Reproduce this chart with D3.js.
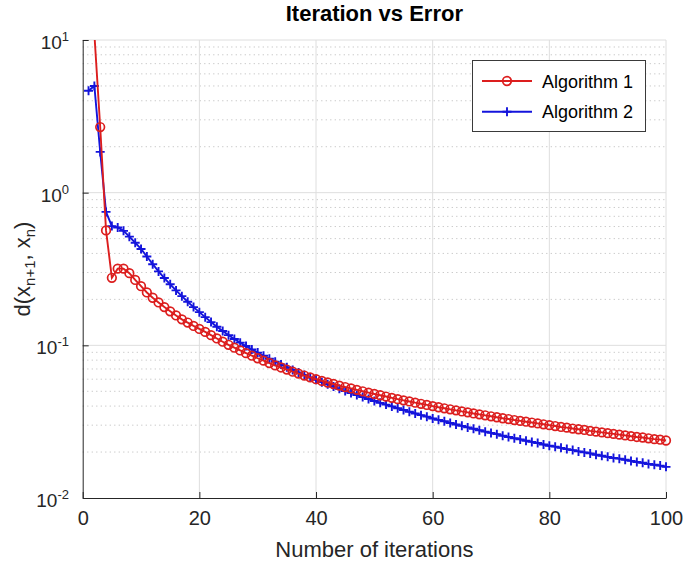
<!DOCTYPE html>
<html><head><meta charset="utf-8">
<script src="https://cdn.jsdelivr.net/npm/d3@7"></script>
<style>body{margin:0;background:#fff;} svg{display:block;font-family:"Liberation Sans",Arial,Helvetica,sans-serif;}</style>
</head><body><svg id="chart" width="685" height="561"></svg>
<script>
const iterations = d3.range(1, 101);
const algorithm1 = [45, 11, 2.69, 0.566, 0.277, 0.318, 0.318, 0.297, 0.268, 0.244,
  0.222, 0.205, 0.191, 0.178, 0.167, 0.157, 0.148, 0.141, 0.134, 0.128,
  0.1225, 0.1166, 0.1109, 0.1056, 0.1008, 0.0965, 0.0926, 0.0889, 0.0855, 0.0823,
  0.0794, 0.0766, 0.0739, 0.0716, 0.0694, 0.0672, 0.0653, 0.0634, 0.0617, 0.0600,
  0.0585, 0.0571, 0.0558, 0.0545, 0.0533, 0.0522, 0.0511, 0.0500, 0.0490, 0.0480,
  0.0471, 0.0462, 0.0453, 0.0444, 0.0436, 0.0429, 0.0421, 0.0414, 0.0407, 0.0400,
  0.0393, 0.0387, 0.0381, 0.0375, 0.0369, 0.0364, 0.0358, 0.0353, 0.0348, 0.0343,
  0.0338, 0.0333, 0.0329, 0.0324, 0.0320, 0.0316, 0.0312, 0.0308, 0.0304, 0.0300,
  0.0296, 0.0292, 0.0289, 0.0285, 0.0282, 0.0279, 0.0275, 0.0272, 0.0269, 0.0266,
  0.0263, 0.0260, 0.0257, 0.0254, 0.0251, 0.0249, 0.0246, 0.0243, 0.0241, 0.0238];
const algorithm2 = [4.65, 5.0, 1.85, 0.748, 0.604, 0.592, 0.562, 0.515, 0.470, 0.428,
  0.382, 0.340, 0.305, 0.276, 0.251, 0.229, 0.210, 0.193, 0.178, 0.165,
  0.153, 0.142, 0.1325, 0.1240, 0.1166, 0.1100, 0.1041, 0.0989, 0.0940, 0.0896,
  0.0855, 0.0817, 0.0782, 0.0749, 0.0719, 0.0690, 0.0664, 0.0639, 0.0616, 0.0594,
  0.0574, 0.0555, 0.0537, 0.0519, 0.0502, 0.0487, 0.0472, 0.0458, 0.0445, 0.0432,
  0.0420, 0.0409, 0.0398, 0.0387, 0.0377, 0.0367, 0.0358, 0.0349, 0.0341, 0.0332,
  0.0325, 0.0318, 0.0310, 0.0303, 0.0297, 0.0290, 0.0284, 0.0278, 0.0272, 0.0267,
  0.0262, 0.0256, 0.0251, 0.0246, 0.0242, 0.0237, 0.0233, 0.0229, 0.0224, 0.0220,
  0.0217, 0.0213, 0.0209, 0.0206, 0.0202, 0.0199, 0.0196, 0.0192, 0.0189, 0.0186,
  0.0183, 0.0181, 0.0178, 0.0175, 0.0172, 0.0170, 0.0167, 0.0165, 0.0163, 0.0160];
const xTicks = [0, 20, 40, 60, 80, 100];
const yTicks = [0.01, 0.1, 1, 10];
const yTickExponents = ["-2", "-1", "0", "1"];
const seriesNames = ["Algorithm 1", "Algorithm 2"];
const titleText = "Iteration vs Error";
const xLabelText = "Number of iterations";

const RED = "#dc1e1e", BLUE = "#1414dc";
const L = 82.7, R = 666, T = 40, B = 498;
const svg = d3.select("#chart");
const x = d3.scaleLinear().domain([0, 100]).range([L, R]);
const y = d3.scaleLog().domain([0.01, 10]).range([B, T]);

// minor grid (horizontal dotted)
const minor = [];
[0.01, 0.1, 1].forEach(d => { for (let i = 2; i <= 9; i++) minor.push(d * i); });
svg.append("g").selectAll("line").data(minor).join("line")
  .attr("x1", L).attr("x2", R).attr("y1", d => y(d)).attr("y2", d => y(d))
  .attr("stroke", "#c4c4c4").attr("stroke-width", 1).attr("stroke-dasharray", "1.2,3.3");
// major grid
svg.append("g").selectAll("line").data(yTicks.slice(1)).join("line")
  .attr("x1", L).attr("x2", R).attr("y1", d => y(d)).attr("y2", d => y(d))
  .attr("stroke", "#dedede").attr("stroke-width", 1);
svg.append("g").selectAll("line").data(xTicks.slice(1)).join("line")
  .attr("x1", d => x(d)).attr("x2", d => x(d)).attr("y1", T).attr("y2", B)
  .attr("stroke", "#dedede").attr("stroke-width", 1);

// axes
const xAxis = svg.append("g").attr("transform", `translate(0,${B})`)
  .call(d3.axisBottom(x).tickValues(xTicks).tickSizeInner(-6).tickSizeOuter(0).tickPadding(13));
xAxis.select(".domain").attr("stroke", "#262626");
xAxis.selectAll(".tick line").attr("stroke", "#262626");
xAxis.selectAll(".tick text").attr("font-size", 20).attr("fill", "#262626")
  .attr("font-family", "'Liberation Sans',Arial,sans-serif").attr("dy", "0.72em");

const yAxis = svg.append("g").attr("transform", `translate(${L},0)`)
  .call(d3.axisLeft(y).tickValues(yTicks).tickSizeInner(-6).tickSizeOuter(0).tickFormat(""));
yAxis.select(".domain").attr("stroke", "#262626");
yAxis.selectAll(".tick line").attr("stroke", "#262626");

// y tick labels with superscripts
const ylab = svg.append("g");
yTicks.forEach((v, i) => {
  const t = ylab.append("text").attr("x", 69).attr("y", y(v) + 9)
    .attr("text-anchor", "end").attr("fill", "#262626").attr("font-size", 19);
  t.append("tspan").text("10");
  t.append("tspan").attr("dy", -8).attr("font-size", 13).text(yTickExponents[i]);
});

// data
const clip = svg.append("clipPath").attr("id", "clip").append("rect")
  .attr("x", L - 8).attr("y", T).attr("width", R - L + 16).attr("height", B - T);
const plot = svg.append("g").attr("clip-path", "url(#clip)");
const line = d3.line().x(d => x(d[0])).y(d => y(d[1]));
const s1 = iterations.map((n, i) => [n, algorithm1[i]]);
const s2 = iterations.map((n, i) => [n, algorithm2[i]]);

plot.append("path").datum(s2).attr("d", line).attr("fill", "none")
  .attr("stroke", BLUE).attr("stroke-width", 1.9);
plot.append("g").selectAll("path").data(s2).join("path")
  .attr("d", d => `M${x(d[0]) - 4.5},${y(d[1])}h9M${x(d[0])},${y(d[1]) - 4.5}v9`)
  .attr("stroke", BLUE).attr("stroke-width", 1.9);
plot.append("path").datum(s1).attr("d", line).attr("fill", "none")
  .attr("stroke", RED).attr("stroke-width", 1.9);
plot.append("g").selectAll("circle").data(s1).join("circle")
  .attr("cx", d => x(d[0])).attr("cy", d => y(d[1])).attr("r", 4.3)
  .attr("fill", "none").attr("stroke", RED).attr("stroke-width", 1.7);

// title & labels
svg.append("text").attr("x", (L + R) / 2).attr("y", 21).attr("text-anchor", "middle")
  .attr("font-size", 22).attr("font-weight", "bold").attr("fill", "#000").text(titleText);
svg.append("text").attr("x", (L + R) / 2).attr("y", 557).attr("text-anchor", "middle")
  .attr("font-size", 22).attr("fill", "#262626").text(xLabelText);
const yl = svg.append("text").attr("transform", `translate(30,${(T + B) / 2}) rotate(-90)`)
  .attr("text-anchor", "middle").attr("font-size", 22).attr("fill", "#262626");
yl.append("tspan").text("d(x");
yl.append("tspan").attr("dy", 5).attr("font-size", 15).text("n+1");
yl.append("tspan").attr("dy", -5).text(", x");
yl.append("tspan").attr("dy", 5).attr("font-size", 15).text("n");
yl.append("tspan").attr("dy", -5).text(")");

// legend
const lg = svg.append("g");
lg.append("rect").attr("x", 472.5).attr("y", 60.5).attr("width", 173).attr("height", 71)
  .attr("fill", "#fff").attr("stroke", "#3a3a3a").attr("stroke-width", 1);
const rows = [81, 111.7];
seriesNames.forEach((name, i) => {
  const c = i === 0 ? RED : BLUE;
  const ry = rows[i];
  lg.append("line").attr("x1", 482).attr("x2", 532).attr("y1", ry).attr("y2", ry)
    .attr("stroke", c).attr("stroke-width", 1.9);
  if (i === 0) lg.append("circle").attr("cx", 507).attr("cy", ry).attr("r", 4.3)
    .attr("fill", "none").attr("stroke", c).attr("stroke-width", 1.7);
  else lg.append("path").attr("d", `M502.5,${ry}h9M507,${ry - 4.5}v9`).attr("stroke", c).attr("stroke-width", 1.9);
  lg.append("text").attr("x", 542).attr("y", ry + 6.5).attr("font-size", 18)
    .attr("fill", "#000").text(name);
});
</script></body></html>
